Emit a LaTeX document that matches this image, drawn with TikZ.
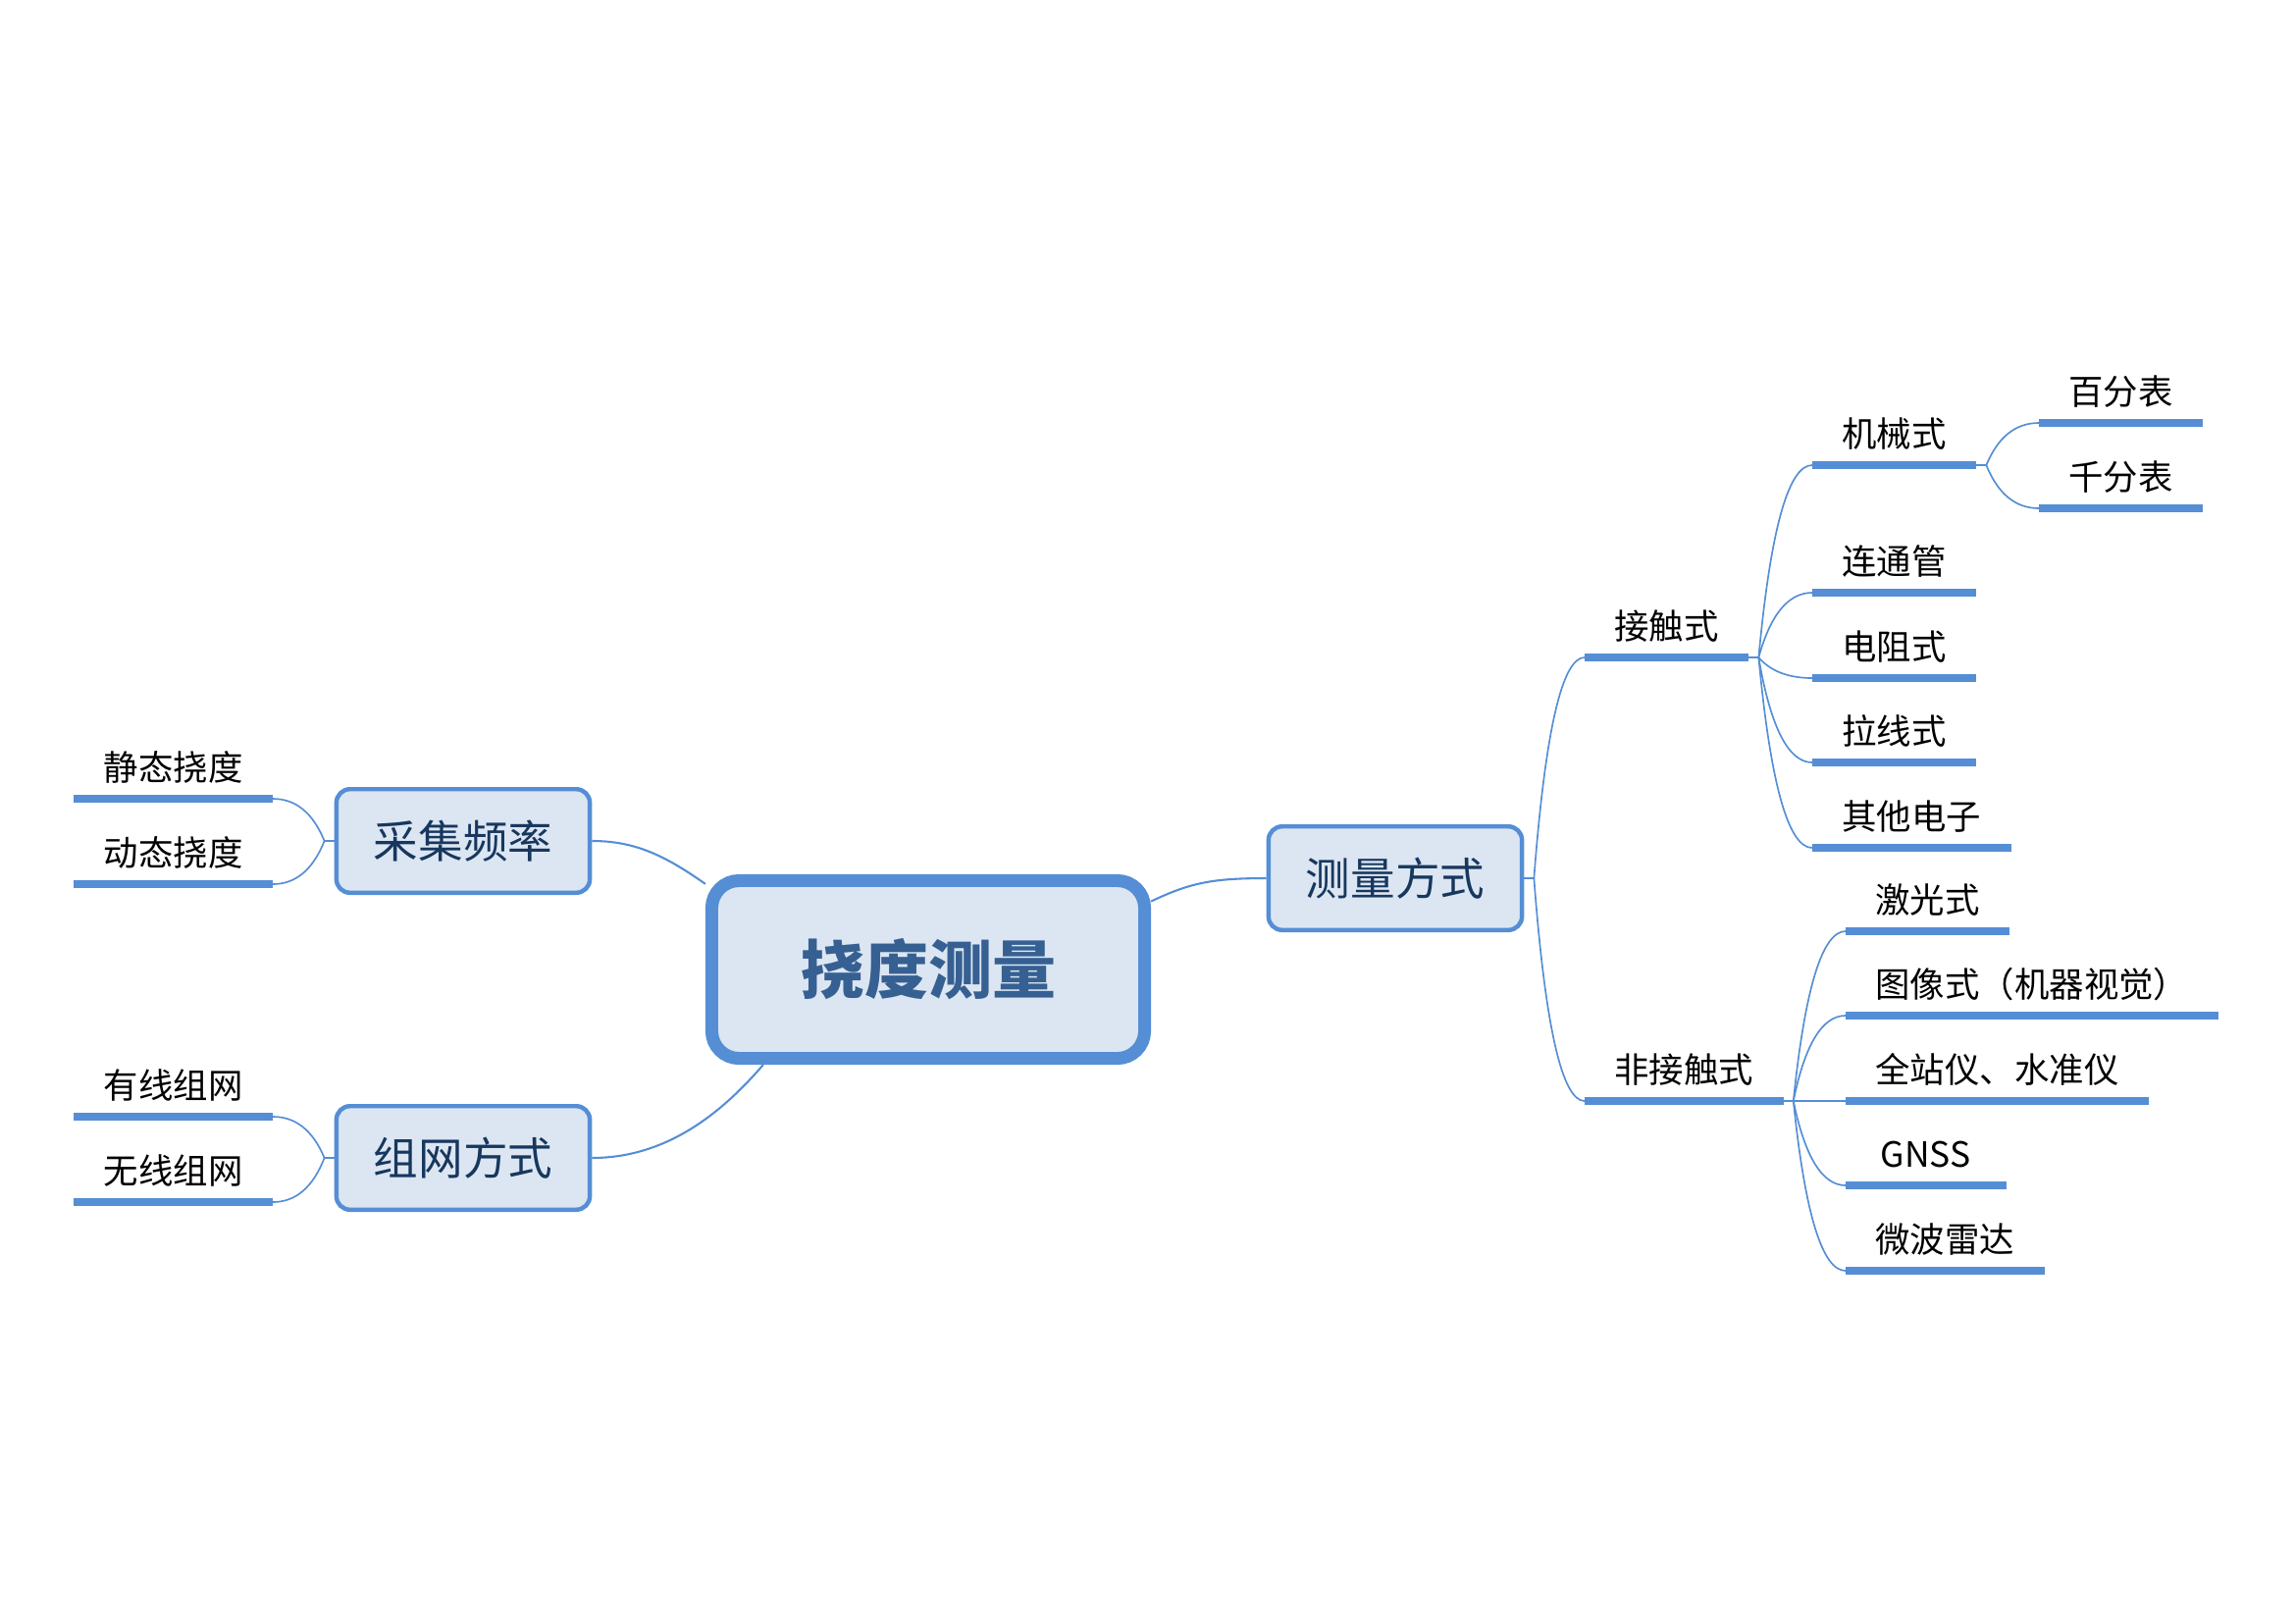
\documentclass[tikz,border=0pt]{standalone}
\usepackage{fontspec}
\newfontfamily\cjk{Noto Sans CJK SC}
\usepackage{tikz}
\pgfdeclarelayer{background}
\pgfsetlayers{background,main}
\usetikzlibrary{calc}
\definecolor{mapblue}{RGB}{85,142,213}
\definecolor{mapfill}{RGB}{220,230,242}
\definecolor{roottext}{RGB}{54,96,146}
\definecolor{topictext}{RGB}{23,55,94}
\tikzset{
  root/.style={draw=mapblue,fill=mapfill,line width=4.7pt,rounded corners=10pt,
    minimum width=158.8pt,minimum height=65.2pt,text=roottext,
    font=\cjk\bfseries\fontsize{23.4}{28}\selectfont},
  topic/.style={draw=mapblue,fill=mapfill,line width=1.6pt,rounded corners=5pt,
    minimum width=93pt,minimum height=38pt,text=topictext,
    font=\cjk\fontsize{16.4}{20}\selectfont},
  leaf/.style={inner xsep=10.8pt,inner ysep=3.4pt,text depth=3pt,text height=10pt,
    font=\cjk\fontsize{12.75}{15}\selectfont},
  bar/.style={draw=mapblue,line width=2.6pt},
  twig/.style={draw=mapblue,line width=0.6pt},
  trunk/.style={draw=mapblue,line width=0.75pt},
}
\newcommand{\Leaf}[4]% pos, anchor, name, text
{\node[leaf,anchor=#2] (#3) at (#1) {#4};
  \draw[bar] (#3.south west) -- (#3.south east);
}
\newcommand{\Hub}[3]% node, anchor, shift
{\coordinate (#1-hub) at ($(#1.#2)+(#3,0)$);
  \begin{pgfonlayer}{background}
    \draw[twig] (#1.#2) -- (#1-hub);
  \end{pgfonlayer}}
\newcommand{\Link}[2]% from, to
{ \begin{pgfonlayer}{background}
    \draw[twig] let \p1=(#1), \p2=(#2) in (\p1)
      .. controls ({\x1+(\x2-\x1)*2/9},{\y1+(\y2-\y1)*2/3})
      and ({\x2-(\x2-\x1)*4/9},\y2) .. (\p2);
  \end{pgfonlayer}}

\begin{document}
\begin{tikzpicture}[x=0.36pt,y=-0.36pt]
  \useasboundingbox (0,0) rectangle (2339,1654);
  % topics
  \node[root] (main) at (946,988) {挠度测量};
  \node[topic] (clfs) at (1422,895) {测量方式};
  \node[topic] (cjpl) at (472,857) {采集频率};
  \node[topic] (zwfs) at (472,1180) {组网方式};
  \begin{pgfonlayer}{background}
    \draw[trunk] (main.17) .. controls +(40,-19) and +(-55,0) .. (clfs.west);
    \draw[trunk] (main.159) .. controls +(-40,-28) and +(45,0) .. (cjpl.east);
    \draw[trunk] (main.210) .. controls +(-38,44) and +(80,0) .. (zwfs.east);
  \end{pgfonlayer}
  % measuring methods
  \Leaf{1615,670}{south west}{jcs}{接触式}
  \Leaf{1615,1122}{south west}{fjcs}{非接触式}
  \Hub{clfs}{east}{10}
  \Link{clfs-hub}{jcs.south west}
  \Link{clfs-hub}{fjcs.south west}
  % contact
  \Leaf{1847,474}{south west}{jxs}{机械式}
  \Leaf{1847,604}{south west}{ltg}{连通管}
  \Leaf{1847,691}{south west}{dzs}{电阻式}
  \Leaf{1847,777}{south west}{lxs}{拉线式}
  \Leaf{1847,864}{south west}{qtdz}{其他电子}
  \Hub{jcs}{south east}{10}
  \Link{jcs-hub}{jxs.south west}
  \Link{jcs-hub}{ltg.south west}
  \Link{jcs-hub}{dzs.south west}
  \Link{jcs-hub}{lxs.south west}
  \Link{jcs-hub}{qtdz.south west}
  \Leaf{2078,431}{south west}{bfb}{百分表}
  \Leaf{2078,518}{south west}{qfb}{千分表}
  \Hub{jxs}{south east}{10}
  \Link{jxs-hub}{bfb.south west}
  \Link{jxs-hub}{qfb.south west}
  % non-contact
  \Leaf{1881,949}{south west}{jgs}{激光式}
  \Leaf{1881,1035}{south west}{txs}{图像式（机器视觉）}
  \Leaf{1881,1122}{south west}{qzy}{全站仪、水准仪}
  \Leaf{1881,1208}{south west,minimum width=58.5pt}{gnss}{GNSS}
  \Leaf{1881,1295}{south west}{wbld}{微波雷达}
  \Hub{fjcs}{south east}{10}
  \Link{fjcs-hub}{jgs.south west}
  \Link{fjcs-hub}{txs.south west}
  \Link{fjcs-hub}{qzy.south west}
  \Link{fjcs-hub}{gnss.south west}
  \Link{fjcs-hub}{wbld.south west}
  % sampling rate
  \Leaf{278,814}{south east}{jtnd}{静态挠度}
  \Leaf{278,901}{south east}{dtnd}{动态挠度}
  \Hub{cjpl}{west}{-10}
  \Link{cjpl-hub}{jtnd.south east}
  \Link{cjpl-hub}{dtnd.south east}
  % networking
  \Leaf{278,1138}{south east}{yxzw}{有线组网}
  \Leaf{278,1225}{south east}{wxzw}{无线组网}
  \Hub{zwfs}{west}{-10}
  \Link{zwfs-hub}{yxzw.south east}
  \Link{zwfs-hub}{wxzw.south east}
\end{tikzpicture}
\end{document}
